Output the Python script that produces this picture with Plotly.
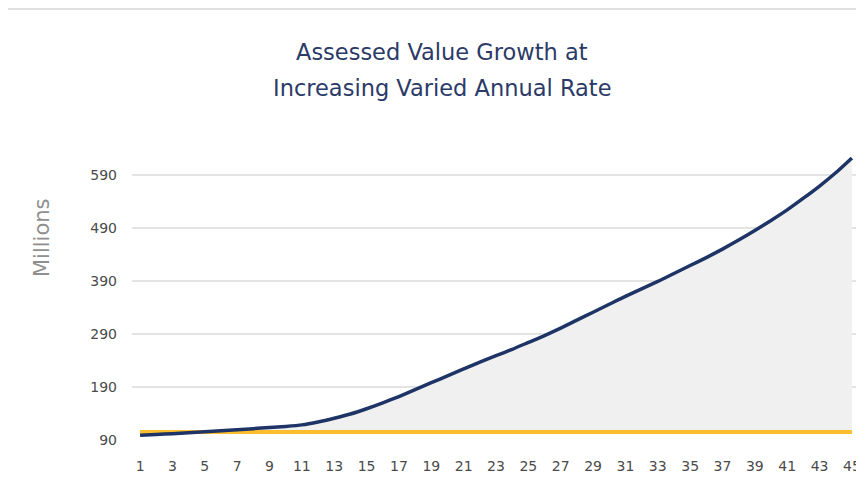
import plotly.graph_objects as go

years = list(range(1, 46))
assessed_value = [99, 100.5, 102, 103.7, 105.5, 107.4, 109.4, 111.4, 113.5, 115.6,
                  118.5, 124, 131, 139, 149, 160, 172, 185, 198, 211,
                  224, 237, 249, 261, 274, 287, 301, 316, 331, 346,
                  361, 375, 389, 404, 419, 434, 450, 467, 485, 504,
                  524, 546, 569, 594, 622]
base_value = [105] * 45

y_ticks = [90, 190, 290, 390, 490, 590]
x_ticks = list(range(1, 46, 2))

title_lines = ["Assessed Value Growth at", "Increasing Varied Annual Rate"]

# figure pixel geometry (page has an 8px body margin)
W, H = 856, 469
L, R, T, B = 124, 4, 134, 37
pw, ph = W - L - R, H - T - B


def px(x):
    return (x - L) / pw


def py(y_from_top):
    return (H - y_from_top - B) / ph


fig = go.Figure()
fig.add_trace(go.Scatter(x=years, y=base_value, mode="lines",
                         line=dict(color="#FDBE2E", width=4),
                         hoverinfo="skip", showlegend=False))
fig.add_trace(go.Scatter(x=years, y=assessed_value, mode="lines",
                         line=dict(color="#1E3466", width=3.5, shape="spline", smoothing=0.6),
                         fill="tonexty", fillcolor="#F0F0F0",
                         showlegend=False))

tick_font = dict(family="DejaVu Sans, sans-serif", size=14, color="#4A4A4A")

fig.update_layout(
    width=W, height=H,
    margin=dict(l=L, r=R, t=T, b=B),
    paper_bgcolor="white", plot_bgcolor="white",
    font=dict(family="DejaVu Sans, sans-serif", color="#4A4A4A"),
    xaxis=dict(range=[0.5, 45.5], tickvals=x_ticks, showgrid=False,
               zeroline=False, showline=False, ticks="",
               ticklabelstandoff=16, tickfont=tick_font),
    yaxis=dict(range=[90, 652], tickvals=y_ticks, showgrid=True,
               gridcolor="#E3E3E3", gridwidth=1.5, zeroline=False,
               showline=False, ticks="", ticklabelstandoff=14,
               tickfont=tick_font),
    annotations=[
        dict(text=title_lines[0], x=px(434), y=py(44), xref="paper", yref="paper",
             xanchor="center", yanchor="middle", showarrow=False,
             font=dict(family="DejaVu Sans, sans-serif", size=22.5, color="#2B3A67")),
        dict(text=title_lines[1], x=px(434), y=py(80), xref="paper", yref="paper",
             xanchor="center", yanchor="middle", showarrow=False,
             font=dict(family="DejaVu Sans, sans-serif", size=22.5, color="#2B3A67")),
        dict(text="Millions", x=px(34), y=py(230), xref="paper", yref="paper",
             xanchor="center", yanchor="middle", showarrow=False, textangle=-90,
             font=dict(family="DejaVu Sans, sans-serif", size=21, color="#8F8F8F")),
    ],
)

fig.add_shape(type="line", xref="paper", yref="paper",
              x0=px(0), x1=px(W), y0=py(1), y1=py(1),
              line=dict(color="#E0E0E0", width=2))

fig.write_html("out.html")
